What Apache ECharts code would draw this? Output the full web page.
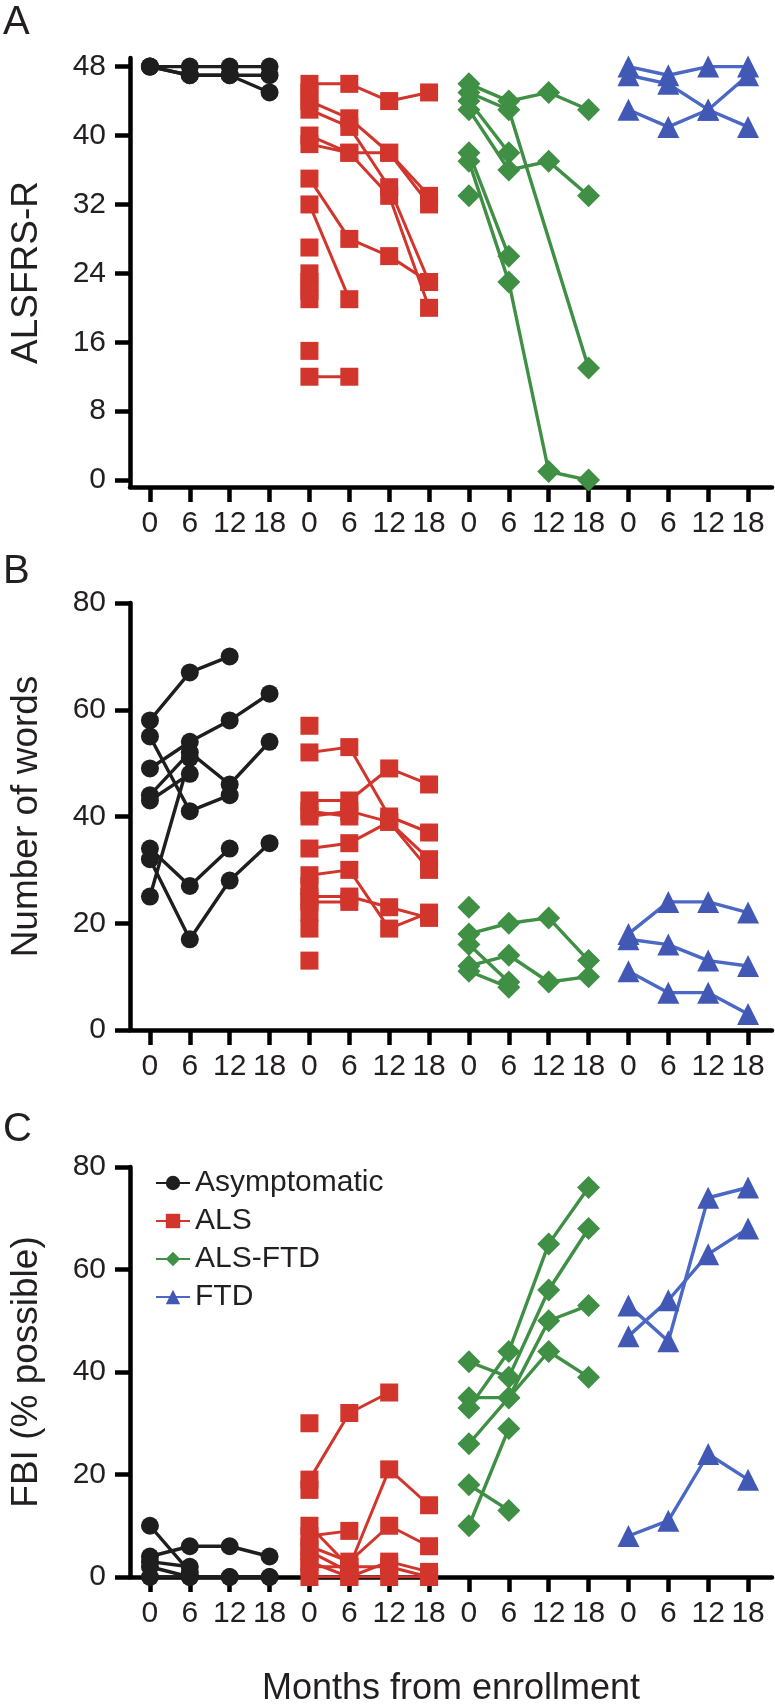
<!DOCTYPE html>
<html><head><meta charset="utf-8">
<script src="https://cdn.jsdelivr.net/npm/echarts@6/dist/echarts.min.js"></script>
<style>html,body{margin:0;padding:0;background:#fff}#c{width:775px;height:1708px}</style>
</head><body><div id="c"></div>
<script>
// ---- data ----
const timeLabels = ['0', '6', '12', '18'];
const groupNames = ['Asymptomatic', 'ALS', 'ALS-FTD', 'FTD'];
const yTicksA = [0, 8, 16, 24, 32, 40, 48];
const yTicksBC = [0, 20, 40, 60, 80];

// Panel A: ALSFRS-R, each row = one subject at months 0, 6, 12, 18 (null = missing)
const alsfrsAsym = [[48, 48, 48, 48], [48, 47, 47, 47], [48, 47, 47, 45]];
const alsfrsALS = [
  [46, 46, 44, 45], [44, 42, 38, 33], [43, 41, 34, 23], [40, 38, 33, 20], [39, 38, 38, 32],
  [35, 28, 26, 23], [32, 21, null, null], [12, 12, null, null], [45, null, null, null],
  [27, null, null, null], [24, null, null, null], [23, null, null, null], [22, null, null, null],
  [21, null, null, null], [15, null, null, null]
];
const alsfrsALSFTD = [
  [46, 44, 45, 43], [45, 43, null, 13], [44, 38, null, null], [43, 36, 37, 33],
  [38, 26, null, null], [37, 23, 1, 0], [33, null, null, null]
];
const alsfrsFTD = [[48, 47, 48, 48], [47, 46, 43, 41], [43, 41, 43, 47]];

// Panel B: Number of words
const wordsAsym = [
  [58, 67, 70, null], [49, 54, 58, 63], [55, 41, 44, null], [44, 52, 46, 54],
  [43, 48, null, null], [25, 51, null, null], [34, 27, 34, null], [32, 17, 28, 35]
];
const wordsALS = [
  [57, null, null, null], [52, 53, 40, 37], [43, 43, 49, 46], [41, 40, null, null],
  [40, 41, 39, 30], [34, 35, 39, 32], [29, 30, 19, 22], [25, 25, 23, 21], [24, 24, null, null],
  [27, null, null, null], [22, null, null, null], [19, null, null, null], [13, null, null, null]
];
const wordsALSFTD = [
  [18, 20, 21, 13], [12, 14, 9, 10], [16, 9, null, null], [11, 8, null, null], [23, null, null, null]
];
const wordsFTD = [[18, 24, 24, 22], [17, 16, 13, 12], [11, 7, 7, 3]];

// Panel C: FBI (% possible)
const fbiAsym = [[4, 6, 6, 4], [10, 1, null, null], [2, 0, 0, 0], [0, 0, 0, 0], [3, 2, null, null]];
const fbiALS = [
  [19, 32, 36, null], [30, null, null, null], [17, null, null, null], [8, 9, null, null],
  [10, 2, 21, 14], [6, 3, 10, 6], [3, 0, 3, 1], [2, 2, 2, 0], [0, 0, 0, 0], [5, 1, null, null]
];
const fbiALSFTD = [
  [42, 39, 56, 68], [35, 35, 44, 39], [33, 44, 65, 76], [26, 35, 50, 53],
  [18, 13, null, null], [10, 29, null, null]
];
const fbiFTD = [[53, 46, 74, 76], [47, 54, 63, 68], [8, 11, 24, 19]];

// ---- styling ----
const colors = ['#1e1e1e', '#d2352c', '#3f8f45', '#4159b5'];
const lineColors = ['#1e1e1e', '#d2352c', '#3f8f45', '#4a68c4'];
const symbols = ['circle', 'rect', 'diamond', 'triangle'];
const symbolSizes = [18, 18, 23, 22];
const lineWidths = [3.4, 3, 3.4, 3.4];
const FONT = 'Liberation Sans, Arial, Helvetica, sans-serif';
const TXT = '#231f20';

const panels = [
  { sets: [alsfrsAsym, alsfrsALS, alsfrsALSFTD, alsfrsFTD] },
  { sets: [wordsAsym, wordsALS, wordsALSFTD, wordsFTD] },
  { sets: [fbiAsym, fbiALS, fbiALSFTD, fbiFTD] }
];

const series = [];
panels.forEach((p, pi) => {
  p.sets.forEach((subjects, g) => {
    subjects.forEach(row => {
      const data = [];
      row.forEach((v, t) => { if (v !== null) data.push([g * 4 + t, v]); });
      series.push({
        type: 'line', name: groupNames[g], xAxisIndex: pi, yAxisIndex: pi,
        data: data, symbol: symbols[g], symbolSize: symbolSizes[g], showSymbol: true,
        showAllSymbol: true, animation: false, z: 2 + g,
        lineStyle: { color: lineColors[g], width: lineWidths[g] },
        itemStyle: { color: colors[g] }, emphasis: { disabled: true }
      });
    });
  });
});

const xIdx = [];
for (let i = 0; i < 16; i++) xIdx.push(i);

const grids = [
  { left: 127, top: 58, width: 645, height: 429 },
  { left: 127, top: 603, width: 645, height: 427 },
  { left: 127, top: 1167, width: 645, height: 428 }
];
const yCfg = [
  { min: -0.8, max: 49, ticks: yTicksA, name: 'ALSFRS-R' },
  { min: 0, max: 80, ticks: yTicksBC, name: 'Number of words' },
  { min: 0, max: 80, ticks: yTicksBC, name: 'FBI (% possible)' }
];

const axLine = { show: true, onZero: false, lineStyle: { color: '#000', width: 4.5 } };
const xAxes = grids.map((g, i) => ({
  gridIndex: i, type: 'value', min: -0.5, max: 15.6,
  axisLine: axLine,
  axisTick: { show: true, customValues: xIdx, length: 15, lineStyle: { color: '#000', width: 4.5 } },
  axisLabel: { customValues: xIdx, formatter: v => timeLabels[Math.round(v) % 4], fontSize: 30, color: TXT, fontFamily: FONT, margin: 22 },
  splitLine: { show: false },
  name: i === 2 ? 'Months from enrollment' : '', nameLocation: 'middle', nameGap: 94,
  nameTextStyle: { fontSize: 36, color: TXT, fontFamily: FONT }
}));
const yAxes = yCfg.map((c, i) => ({
  gridIndex: i, type: 'value', min: c.min, max: c.max,
  axisLine: axLine,
  axisTick: { show: true, customValues: c.ticks, length: 15, lineStyle: { color: '#000', width: 4.5 } },
  axisLabel: { customValues: c.ticks, fontSize: 30, color: TXT, fontFamily: FONT, margin: 24 },
  splitLine: { show: false },
  name: c.name, nameLocation: 'middle', nameGap: 85,
  nameTextStyle: { fontSize: 37, color: TXT, fontFamily: FONT }
}));

const chart = echarts.init(document.getElementById('c'), null, { renderer: 'canvas' });
chart.setOption({
  backgroundColor: '#fff',
  animation: false,
  grid: grids,
  xAxis: xAxes,
  yAxis: yAxes,
  legend: {
    data: groupNames, orient: 'vertical', left: 150, top: 1163,
    itemWidth: 34, itemHeight: 18, itemGap: 8,
    textStyle: { fontSize: 30, color: TXT, fontFamily: FONT }
  },
  graphic: [
    { type: 'text', left: 3, top: 3, style: { text: 'A', fontSize: 40, fill: TXT, fontFamily: FONT } },
    { type: 'text', left: 3, top: 552, style: { text: 'B', fontSize: 40, fill: TXT, fontFamily: FONT } },
    { type: 'text', left: 3, top: 1110, style: { text: 'C', fontSize: 40, fill: TXT, fontFamily: FONT } }
  ],
  series: series
});
</script>
</body></html>
